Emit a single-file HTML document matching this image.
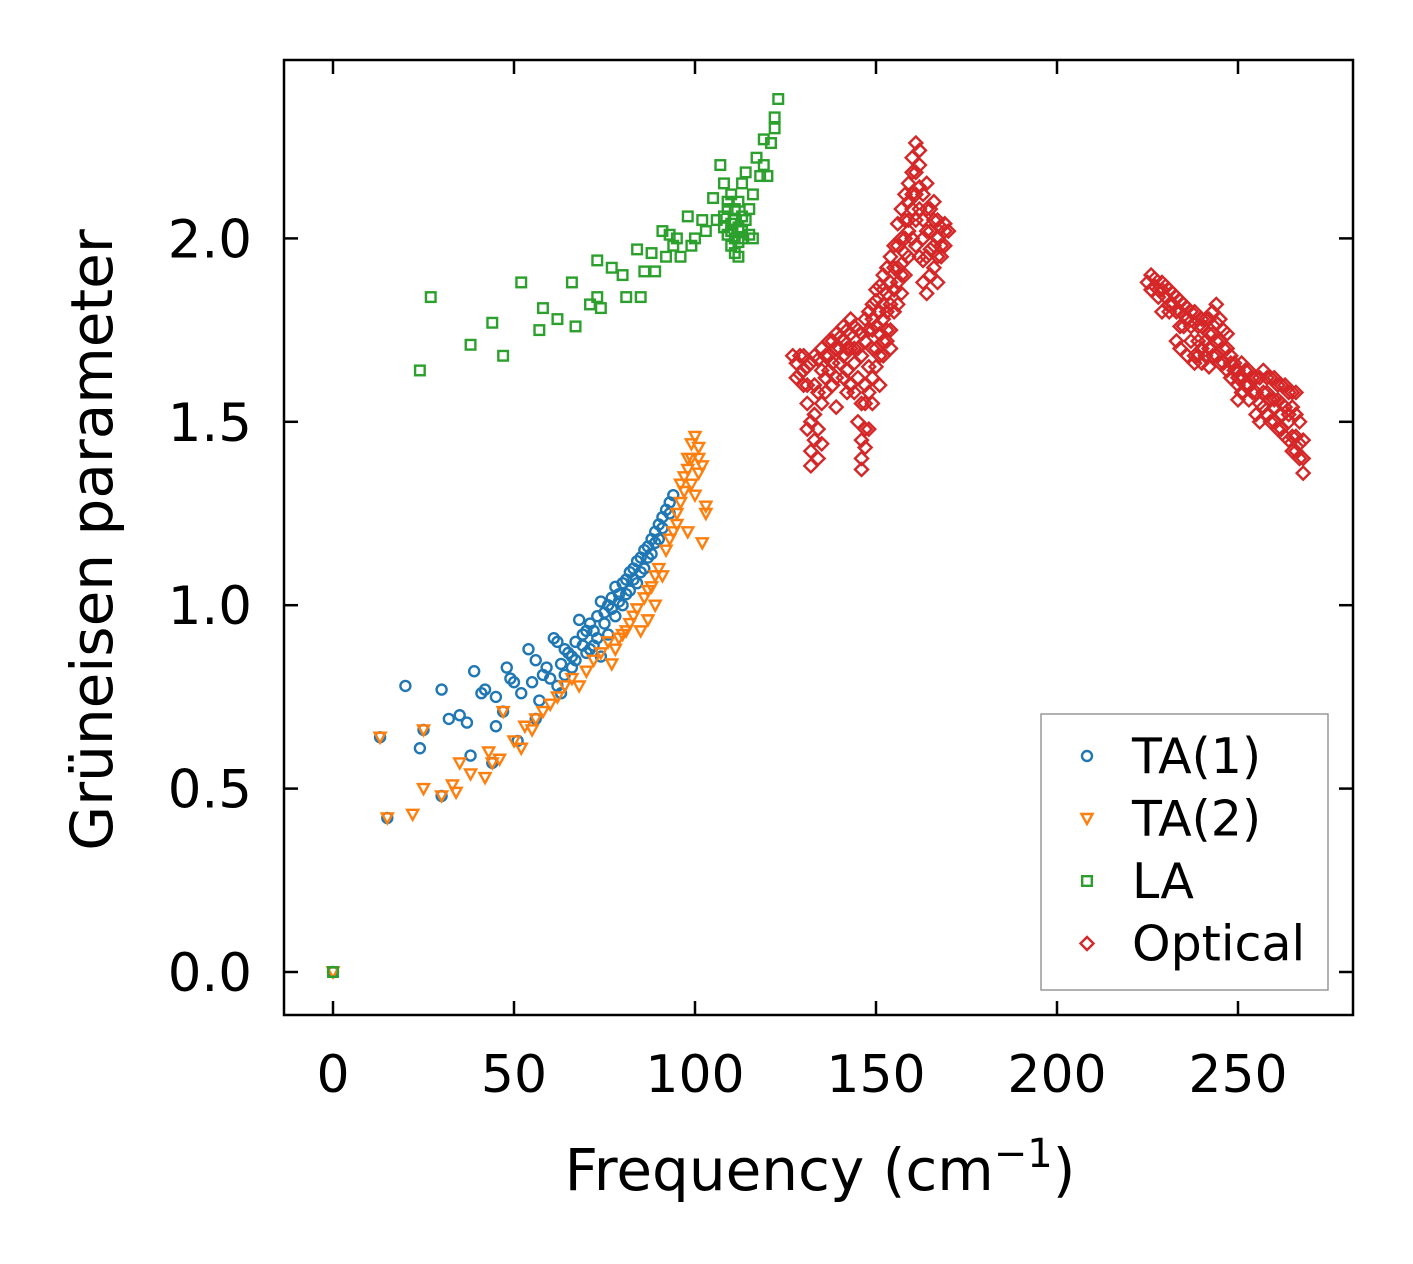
<!DOCTYPE html>
<html><head><meta charset="utf-8"><style>
html,body{margin:0;padding:0;background:#fff;}
svg{display:block;font-family:"DejaVu Sans","Liberation Sans",sans-serif;}
</style></head><body>
<svg id="chart" width="1413" height="1264" viewBox="0 0 1413 1264">
<rect x="0" y="0" width="1413" height="1264" fill="#fff"/>
<g id="marks"></g>
<g id="axes"></g>
</svg>
<script>
const xTicks=[0,50,100,150,200,250];
const yTicks=[0.0,0.5,1.0,1.5,2.0];
const yTickLabels=["0.0","0.5","1.0","1.5","2.0"];
const ta1=[[0,0],[13,0.64],[15,0.42],[20,0.78],[24,0.61],[25,0.66],[30,0.48],[30,0.77],[32,0.69],[35,0.70],[37,0.68],[38,0.59],[39,0.82],[41,0.76],[42,0.77],[44,0.57],[45,0.67],[45,0.75],[47,0.71],[48,0.83],[49,0.80],[50,0.79],[51,0.63],[52,0.76],[54,0.88],[55,0.79],[56,0.85],[56,0.69],[57,0.74],[58,0.81],[59,0.83],[60,0.80],[61,0.91],[62,0.90],[63,0.76],[63,0.84],[64,0.88],[65,0.87],[66,0.83],[67,0.90],[68,0.96],[69,0.92],[70,0.93],[70,0.87],[71,0.95],[72,0.89],[73,0.97],[74,1.01],[74,0.86],[75,0.95],[76,1.00],[76,0.92],[77,1.02],[78,1.05],[78,0.97],[79,1.03],[80,1.06],[81,1.07],[82,1.09],[83,1.10],[84,1.12],[85,1.13],[86,1.15],[87,1.16],[88,1.18],[89,1.20],[90,1.22],[91,1.24],[92,1.26],[93,1.28],[94,1.30],[80,1.00],[82,1.04],[84,1.06],[86,1.10],[88,1.14],[90,1.18],[73,0.91],[71,0.88],[67,0.85],[75,0.98],[77,0.99],[79,1.01],[81,1.03],[83,1.07],[85,1.09],[87,1.13],[89,1.17],[91,1.21],[93,1.25],[72,0.93],[69,0.89],[66,0.86],[64,0.81],[62,0.78]];
const ta2=[[0,0],[13,0.64],[15,0.42],[22,0.43],[25,0.50],[25,0.66],[30,0.48],[33,0.51],[34,0.49],[35,0.57],[38,0.54],[42,0.53],[43,0.60],[44,0.57],[46,0.58],[47,0.71],[50,0.63],[52,0.61],[53,0.67],[55,0.66],[56,0.69],[58,0.71],[60,0.73],[62,0.75],[64,0.78],[66,0.80],[68,0.78],[70,0.82],[72,0.85],[74,0.87],[76,0.90],[78,0.88],[80,0.92],[82,0.95],[84,0.99],[86,1.02],[88,1.05],[90,1.10],[92,1.15],[94,1.20],[96,1.28],[97,1.35],[98,1.40],[99,1.44],[100,1.46],[101,1.43],[102,1.38],[103,1.27],[102,1.17],[98,1.20],[95,1.22],[100,1.30],[97,1.31],[103,1.25],[91,1.08],[89,1.00],[87,0.96],[85,0.93],[77,0.84],[79,0.91],[93,1.18],[95,1.25],[96,1.33],[98,1.37],[99,1.40],[101,1.40],[99,1.33],[101,1.36],[89,1.08],[87,1.04],[83,0.97],[81,0.93]];
const la=[[0,0],[24,1.64],[27,1.84],[38,1.71],[44,1.77],[47,1.68],[52,1.88],[57,1.75],[58,1.81],[62,1.78],[66,1.88],[67,1.76],[71,1.82],[73,1.94],[73,1.84],[74,1.81],[77,1.92],[80,1.90],[81,1.84],[84,1.97],[85,1.84],[86,1.91],[88,1.96],[89,1.91],[91,2.02],[92,1.95],[93,2.01],[94,1.98],[95,2.00],[96,1.95],[98,2.06],[99,1.98],[100,2.00],[102,2.05],[103,2.02],[105,2.11],[106,2.05],[107,2.20],[108,2.15],[109,2.08],[110,2.02],[110,2.12],[111,1.96],[111,2.05],[112,2.10],[113,2.15],[113,2.00],[114,2.18],[115,2.08],[116,2.00],[116,2.12],[117,2.22],[118,2.17],[119,2.20],[119,2.27],[120,2.17],[121,2.26],[122,2.30],[122,2.33],[123,2.38],[112,1.95],[108,2.03],[114,2.05],[109,2.01],[110,2.04],[111,2.00],[112,2.03],[113,2.06],[111,2.08],[109,2.10],[112,1.99],[110,1.98],[113,2.02],[115,2.01],[108,2.06]];
const optical=[[127,1.68],[128,1.66],[129,1.63],[130,1.60],[130,1.68],[131,1.55],[131,1.65],[132,1.50],[132,1.42],[132,1.38],[133,1.45],[133,1.60],[134,1.48],[134,1.67],[135,1.55],[135,1.70],[136,1.62],[137,1.68],[138,1.60],[138,1.72],[139,1.54],[140,1.66],[140,1.73],[141,1.62],[142,1.70],[142,1.75],[143,1.60],[144,1.66],[144,1.76],[145,1.50],[145,1.70],[146,1.40],[146,1.37],[146,1.45],[147,1.43],[147,1.55],[147,1.78],[148,1.48],[148,1.65],[148,1.80],[149,1.55],[149,1.75],[150,1.70],[150,1.83],[151,1.68],[151,1.87],[152,1.78],[152,1.90],[153,1.75],[153,1.85],[154,1.82],[154,1.95],[155,1.80],[155,1.92],[156,1.88],[156,1.98],[157,1.85],[157,2.00],[158,1.90],[158,2.05],[159,1.95],[159,2.10],[160,2.00],[160,2.18],[161,2.26],[161,2.05],[162,2.20],[162,1.95],[163,2.12],[163,1.88],[164,2.02],[164,1.85],[165,2.08],[165,1.90],[166,2.05],[166,1.92],[167,2.00],[167,1.88],[168,2.03],[168,1.95],[169,2.04],[170,2.02],[166,2.10],[164,2.15],[158,2.12],[156,1.82],[154,1.75],[150,1.65],[143,1.70],[141,1.68],[136,1.58],[134,1.40],[153,1.72],[151,1.60],[152,1.82],[155,1.86],[157,1.93],[159,2.02],[161,2.12],[163,2.00],[165,1.97],[149,1.78],[146,1.74],[139,1.70],[137,1.64],
[128,1.62],[129,1.68],[130,1.64],[131,1.60],[132,1.66],[133,1.52],[133,1.68],[134,1.58],[135,1.64],[136,1.68],[137,1.72],[138,1.66],[139,1.62],[139,1.74],[140,1.70],[141,1.72],[141,1.76],[142,1.64],[143,1.74],[143,1.78],[144,1.70],[145,1.75],[145,1.62],[146,1.55],[146,1.68],[147,1.60],[147,1.72],[148,1.58],[148,1.75],[149,1.70],[149,1.82],[150,1.76],[150,1.86],[151,1.74],[151,1.80],[152,1.72],[152,1.86],[153,1.80],[153,1.92],[154,1.88],[155,1.86],[155,1.98],[156,1.92],[156,2.04],[157,1.90],[157,2.08],[158,1.96],[158,2.00],[159,2.05],[159,2.15],[160,2.08],[160,2.22],[161,2.18],[161,1.98],[162,2.08],[162,2.14],[163,2.05],[163,1.94],[164,1.95],[164,2.08],[165,2.02],[166,1.98],[167,2.05],[167,1.95],[168,1.98],[169,1.98],[169,2.02],[162,2.24],[160,2.12],[154,1.70],[152,1.68],[149,1.62],[147,1.48],[144,1.58],[142,1.58],[135,1.44],[131,1.48],
[225,1.88],[226,1.90],[227,1.87],[228,1.86],[229,1.88],[230,1.84],[231,1.86],[232,1.82],[233,1.84],[234,1.80],[235,1.82],[236,1.78],[237,1.80],[238,1.77],[239,1.72],[240,1.76],[240,1.70],[241,1.78],[242,1.74],[243,1.80],[243,1.68],[244,1.82],[244,1.72],[245,1.78],[245,1.66],[246,1.75],[247,1.70],[248,1.66],[249,1.64],[250,1.62],[251,1.66],[252,1.60],[253,1.64],[254,1.58],[255,1.62],[256,1.55],[257,1.64],[258,1.52],[259,1.62],[260,1.50],[261,1.60],[262,1.48],[263,1.60],[264,1.45],[265,1.58],[265,1.42],[266,1.52],[267,1.40],[268,1.36],[268,1.45],[236,1.68],[238,1.68],[233,1.72],[229,1.80],[250,1.56],[255,1.52],[262,1.55],[242,1.65],[231,1.82],[235,1.76],[247,1.74],[252,1.64],[258,1.58],[260,1.56],[264,1.52],[266,1.46],
[226,1.86],[227,1.89],[228,1.84],[229,1.86],[230,1.87],[231,1.80],[232,1.85],[233,1.80],[234,1.83],[234,1.76],[235,1.79],[236,1.81],[237,1.76],[237,1.72],[238,1.80],[239,1.76],[239,1.68],[240,1.78],[241,1.72],[241,1.68],[242,1.78],[242,1.70],[243,1.74],[244,1.77],[244,1.68],[245,1.72],[246,1.70],[246,1.66],[247,1.64],[248,1.68],[248,1.62],[249,1.66],[250,1.64],[250,1.60],[251,1.62],[251,1.58],[252,1.64],[253,1.60],[253,1.56],[254,1.62],[255,1.58],[256,1.62],[256,1.50],[257,1.58],[257,1.54],[258,1.62],[259,1.56],[259,1.50],[260,1.62],[260,1.54],[261,1.56],[261,1.48],[262,1.60],[262,1.52],[263,1.54],[263,1.46],[264,1.58],[264,1.50],[265,1.54],[265,1.46],[266,1.58],[266,1.42],[267,1.50],[267,1.44],[268,1.40],[234,1.70],[238,1.66],[240,1.66]];

const L=284,R=1353,T=60,B=1015;
function xs(v){return 333+v*3.62;}
function ys(v){return 972-v*366.8;}
const NS="http://www.w3.org/2000/svg";
const marks=document.getElementById('marks');
const axes=document.getElementById('axes');
function mk(tag,attrs,parent){const e=document.createElementNS(NS,tag);for(const k in attrs)e.setAttribute(k,attrs[k]);parent.appendChild(e);return e;}
function marker(kind,cx,cy,color,parent){
  let e;
  if(kind==='circle'){e=mk('circle',{cx:cx,cy:cy,r:5},parent);}
  else if(kind==='tri'){e=mk('polygon',{points:`${cx-5.5},${cy-4.5} ${cx+5.5},${cy-4.5} ${cx},${cy+5.5}`},parent);}
  else if(kind==='square'){e=mk('rect',{x:cx-4.8,y:cy-4.8,width:9.6,height:9.6},parent);}
  else {e=mk('polygon',{points:`${cx},${cy-6.5} ${cx+6.5},${cy} ${cx},${cy+6.5} ${cx-6.5},${cy}`},parent);}
  e.setAttribute('fill','none');e.setAttribute('stroke',color);e.setAttribute('stroke-width','2.4');
  return e;
}
const series=[["ta1",ta1,'circle','#1f77b4','TA(1)'],["ta2",ta2,'tri','#ff7f0e','TA(2)'],["la",la,'square','#2ca02c','LA'],["optical",optical,'diamond','#d62728','Optical']];
series.forEach(s=>{
  const g=mk('g',{},marks);
  
  
  s[1].forEach(p=>{
    const m=marker(s[2],xs(p[0]),ys(p[1]),s[3],g);
    
    
  });
});
const frame=mk('rect',{x:L,y:T,width:R-L,height:B-T,fill:'none',stroke:'#000','stroke-width':2.5},axes);


xTicks.forEach(v=>{
  const x=xs(v);
  mk('line',{x1:x,y1:B,x2:x,y2:B-14,stroke:'#000','stroke-width':2.5},axes);
  mk('line',{x1:x,y1:T,x2:x,y2:T+14,stroke:'#000','stroke-width':2.5},axes);
  const t=mk('text',{x:x,y:1092,'text-anchor':'middle','font-size':52},axes);
  t.textContent=String(v);
  
  
});
yTicks.forEach((v,i)=>{
  const y=ys(v);
  mk('line',{x1:L,y1:y,x2:L+14,y2:y,stroke:'#000','stroke-width':2.5},axes);
  mk('line',{x1:R,y1:y,x2:R-14,y2:y,stroke:'#000','stroke-width':2.5},axes);
  const t=mk('text',{x:252,y:y+19,'text-anchor':'end','font-size':53},axes);
  t.textContent=yTickLabels[i];
  
  
});
const xl=mk('text',{x:820,y:1190,'text-anchor':'middle','font-size':58},axes);
xl.innerHTML='Frequency (cm<tspan dy="-23" font-size="40">−1</tspan><tspan dy="23">)</tspan>';


const yl=mk('text',{x:0,y:0,'text-anchor':'middle','font-size':58,transform:'translate(112,540) rotate(-90)'},axes);
yl.textContent='Grüneisen parameter';


const lg=mk('g',{},axes);


mk('rect',{x:1041,y:714,width:287,height:276,fill:'#fff',stroke:'#999','stroke-width':1.5},lg);
series.forEach((s,i)=>{
  const y=756+i*62.5;
  const e=mk('g',{},lg);
  
  
  marker(s[2],1087,y,s[3],e);
  const t=mk('text',{x:1132,y:y+17,'font-size':49},e);
  t.textContent=s[4];
});
</script>
</body></html>
